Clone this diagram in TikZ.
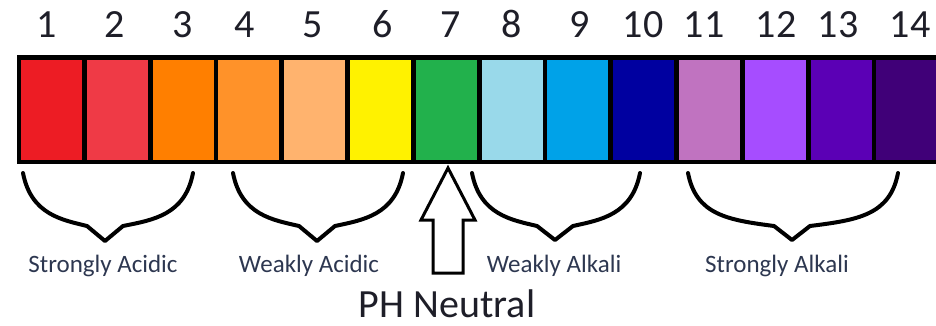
\documentclass[tikz,border=0pt]{standalone}
\usepackage{fontspec}
\setmainfont{Carlito}

\definecolor{ph1}{RGB}{237,28,36}
\definecolor{ph2}{RGB}{239,58,70}
\definecolor{ph3}{RGB}{255,127,0}
\definecolor{ph4}{RGB}{255,146,41}
\definecolor{ph5}{RGB}{255,179,110}
\definecolor{ph6}{RGB}{255,242,0}
\definecolor{ph7}{RGB}{34,177,76}
\definecolor{ph8}{RGB}{153,217,234}
\definecolor{ph9}{RGB}{0,162,232}
\definecolor{ph10}{RGB}{0,0,160}
\definecolor{ph11}{RGB}{192,115,192}
\definecolor{ph12}{RGB}{166,77,255}
\definecolor{ph13}{RGB}{91,0,181}
\definecolor{ph14}{RGB}{64,0,120}
\definecolor{numtext}{RGB}{30,30,40}
\definecolor{rangetext}{RGB}{45,55,80}

\begin{document}
\begin{tikzpicture}[x=1pt,y=-1pt,
  cell/.style={rectangle,minimum width=61pt,minimum height=100pt,inner sep=0pt},
  num/.style={anchor=base,font=\fontsize{40}{48}\selectfont,text=numtext},
  range label/.style={anchor=base,font=\fontsize{25}{30}\selectfont,text=rangetext},
  brace line/.style={line width=4pt,line cap=round,line join=round}]

\useasboundingbox (0,0) rectangle (936,326);

% the scale
\fill[black] (17,55) rectangle (936,164);
\foreach \i in {1,...,14}
  \node[cell,fill=ph\i] (c\i) at ({51.5+(\i-1)*65.8},110) {};

\foreach \i/\x in {1/47,2/115,3/183,4/245,5/313,6/383,7/451,8/512,9/580,10/643,11/704,12/776,13/838,14/910}
  \node[num] (n\i) at (\x,38) {\i};

% braces
\draw[brace line] (23,173) .. controls (31,215) and (63,220) .. (87,226) -- (105,241) -- (123,226) .. controls (153,220) and (185,215) .. (193,173);
\draw[brace line] (233,173) .. controls (241,215) and (273,220) .. (299,226) -- (317,241) -- (335,226) .. controls (363,220) and (395,215) .. (403,173);
\draw[brace line] (472,173) .. controls (480,215) and (512,220) .. (537,226) -- (555,240) -- (573,226) .. controls (600,220) and (632,215) .. (640,173);
\draw[brace line] (688,173) .. controls (696,215) and (728,220) .. (774,226) -- (792,240) -- (810,226) .. controls (858,220) and (890,215) .. (898,173);

\node[range label] (sacid) at (103,272) {Strongly Acidic};
\node[range label] (wacid) at (309,272) {Weakly Acidic};
\node[range label] (walk) at (554,272) {Weakly Alkali};
\node[range label] (salk) at (777,272) {Strongly Alkali};

% neutral arrow
\draw[line width=3pt] (448,168) -- (475,220) -- (463,220) -- (463,273) -- (433,273) -- (433,220) -- (421,220) -- cycle;
\node[anchor=base,font=\fontsize{40}{48}\selectfont,text=numtext] (neutral) at (447,317) {PH Neutral};
\end{tikzpicture}
\end{document}
